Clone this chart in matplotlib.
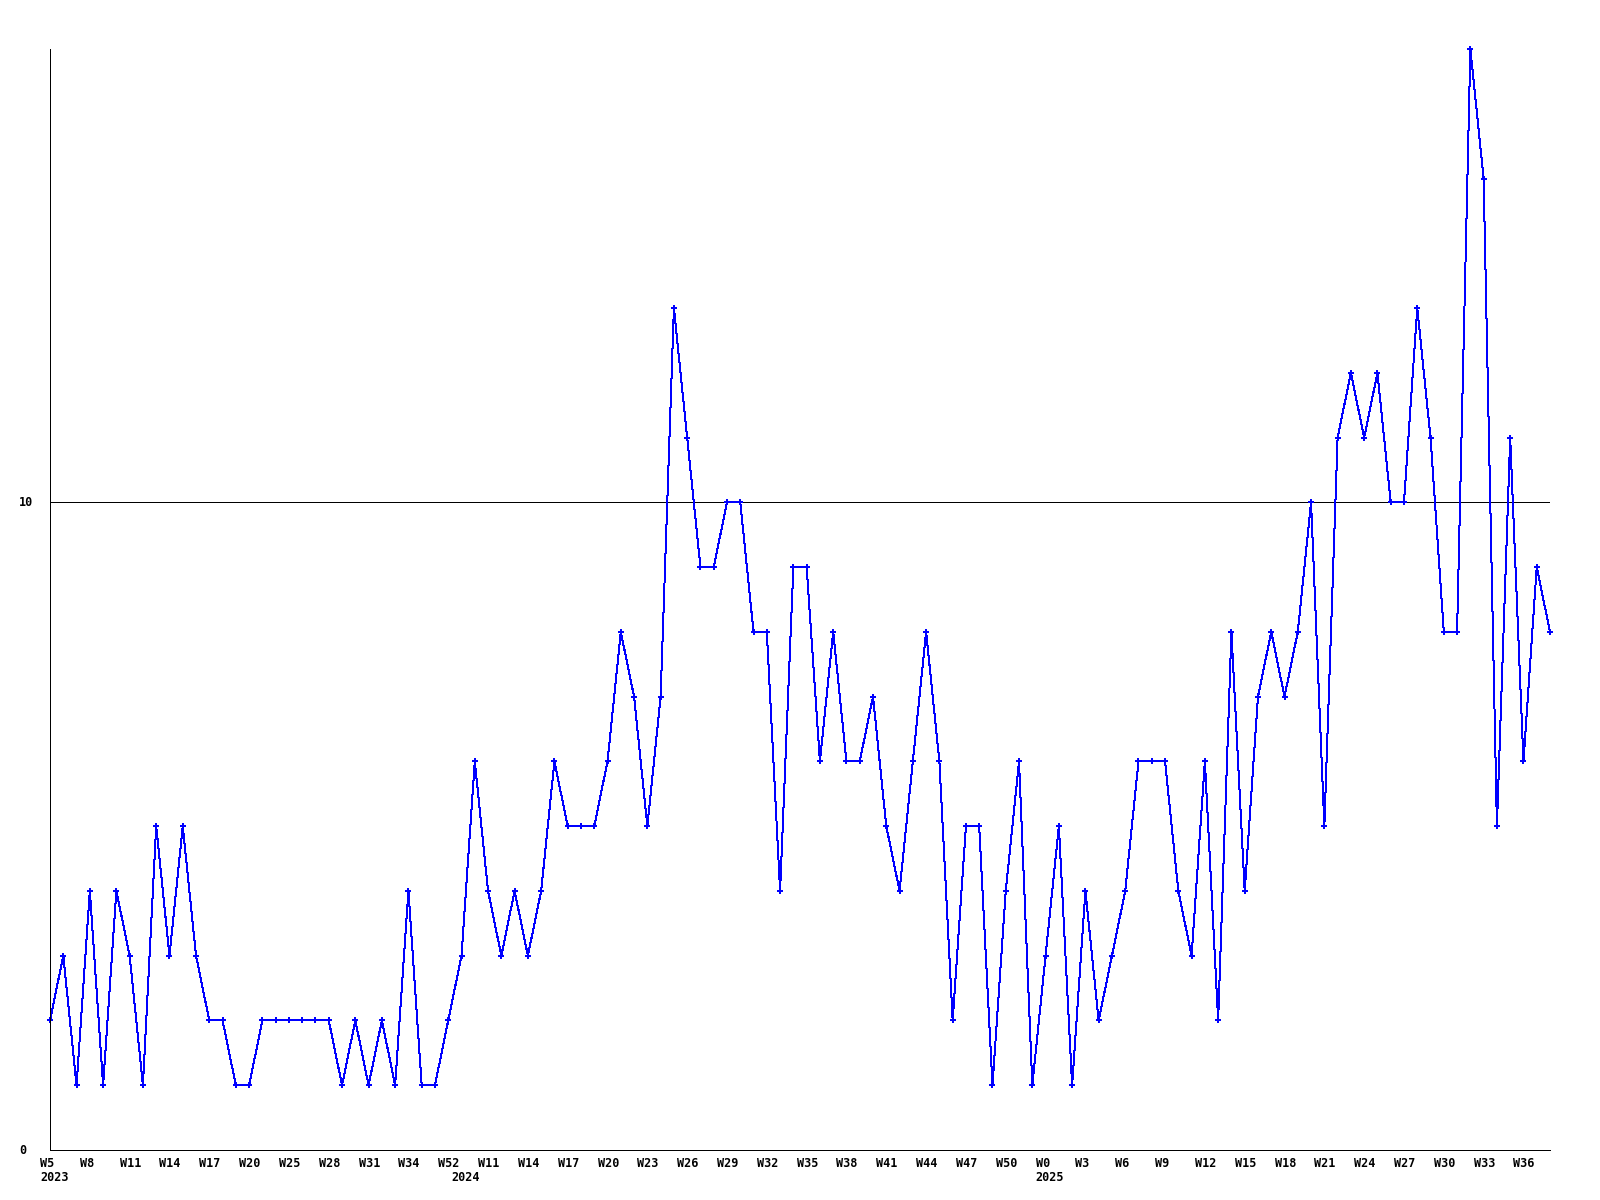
import matplotlib
matplotlib.use("Agg")
import matplotlib.pyplot as plt
import matplotlib.transforms as mtransforms

# weekly counts, one point per week
counts = [
    2, 3, 1, 4, 1, 4, 3, 1, 5, 3, 5, 3, 2, 2, 1, 1, 2, 2, 2, 2,
    2, 2, 1, 2, 1, 2, 1, 4, 1, 1, 2, 3, 6, 4, 3, 4, 3, 4, 6, 5,
    5, 5, 6, 8, 7, 5, 7, 13, 11, 9, 9, 10, 10, 8, 8, 4, 9, 9, 6, 8,
    6, 6, 7, 5, 4, 6, 8, 6, 2, 5, 5, 1, 4, 6, 1, 3, 5, 1, 4, 2,
    3, 4, 6, 6, 6, 4, 3, 6, 2, 8, 4, 7, 8, 7, 8, 10, 5, 11, 12, 11,
    12, 10, 10, 13, 11, 8, 8, 17, 15, 5, 11, 6, 9, 8,
]

# x labels, one every 3 points
week_labels = [
    "W5", "W8", "W11", "W14", "W17", "W20", "W25", "W28", "W31", "W34",
    "W52", "W11", "W14", "W17", "W20", "W23", "W26", "W29", "W32", "W35",
    "W38", "W41", "W44", "W47", "W50", "W0", "W3", "W6", "W9", "W12",
    "W15", "W18", "W21", "W24", "W27", "W30", "W33", "W36",
]
label_step = 3

# year markers: (point index, text)
year_idx = [0, 31, 75]
year_text = ["2023", "2024", "2025"]

ref_value = 10
y_max = 17

font = {"family": "DejaVu Sans Mono", "weight": "bold", "size": 8.5}

fig = plt.figure(figsize=(16, 12), dpi=100)
ax = fig.add_axes([50 / 1600, 50 / 1200, 1500 / 1600, 1101 / 1200])

x = list(range(len(counts)))
ax.axhline(ref_value, color="black", linewidth=0.72, antialiased=False, zorder=1)
ax.plot(x, counts, color="#0000ff", linewidth=0.72, marker="P", markersize=4.5,
        markeredgewidth=0, antialiased=False, zorder=2, clip_on=False)

ax.set_xlim(0, len(counts) - 1)
ax.set_ylim(0, y_max)

for side in ["top", "right"]:
    ax.spines[side].set_visible(False)
for side in ["left", "bottom"]:
    ax.spines[side].set_linewidth(0.72)
    ax.spines[side].set_antialiased(False)

ax.set_xticks([])
ax.set_yticks([])

# y labels, left aligned near the figure edge
ytrans = mtransforms.blended_transform_factory(fig.transFigure, ax.transData)
for v in [0, ref_value]:
    ax.text(19 / 1600, v, str(v), transform=ytrans, ha="left", va="center",
            fontdict=font)

# week and year labels, left edge a little before each point
off = mtransforms.ScaledTranslation(-10 / 100, 0, fig.dpi_scale_trans)
xtrans = mtransforms.blended_transform_factory(ax.transData, fig.transFigure) + off
for i, lab in enumerate(week_labels):
    ax.text(i * label_step, 1 - 1157 / 1200, lab, transform=xtrans,
            ha="left", va="top", fontdict=font)
for i, lab in zip(year_idx, year_text):
    ax.text(i, 1 - 1171 / 1200, lab, transform=xtrans,
            ha="left", va="top", fontdict=font)

fig.savefig("out.png", dpi=100, facecolor="white")
